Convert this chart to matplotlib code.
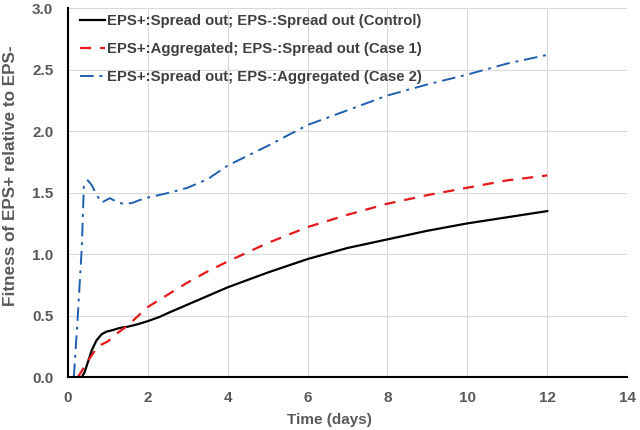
import matplotlib.pyplot as plt

# --- data ---
t_ctrl = [0.35, 0.42, 0.5, 0.6, 0.72, 0.85, 0.97, 1.1, 1.3, 1.5, 1.75, 2.0, 2.3, 2.5, 3.0, 3.5, 4.0, 5.0, 6.0, 7.0, 8.0, 9.0, 10.0, 11.0, 12.0]
fit_ctrl = [0.0, 0.04, 0.12, 0.22, 0.30, 0.35, 0.37, 0.38, 0.40, 0.41, 0.43, 0.455, 0.49, 0.52, 0.59, 0.66, 0.73, 0.85, 0.96, 1.05, 1.12, 1.19, 1.25, 1.30, 1.35]

t_case1 = [0.25, 0.35, 0.5, 0.75, 1.0, 1.25, 1.5, 2.0, 2.5, 3.0, 3.5, 4.0, 5.0, 6.0, 7.0, 8.0, 9.0, 10.0, 11.0, 12.0]
fit_case1 = [0.0, 0.05, 0.13, 0.25, 0.29, 0.36, 0.42, 0.57, 0.67, 0.77, 0.86, 0.94, 1.09, 1.22, 1.32, 1.41, 1.48, 1.54, 1.60, 1.64]

t_case2 = [0.15, 0.25, 0.35, 0.4, 0.5, 0.6, 0.72, 0.85, 1.05, 1.2, 1.37, 1.6, 1.8, 2.0, 2.55, 3.0, 3.5, 4.0, 4.5, 5.0, 6.0, 7.0, 8.0, 9.0, 10.0, 11.0, 12.0]
fit_case2 = [0.0, 0.5, 1.06, 1.55, 1.60, 1.56, 1.48, 1.42, 1.455, 1.43, 1.41, 1.415, 1.44, 1.46, 1.50, 1.54, 1.61, 1.72, 1.80, 1.88, 2.05, 2.17, 2.29, 2.38, 2.46, 2.55, 2.62]

labels = ['EPS+:Spread out; EPS-:Spread out (Control)',
          'EPS+:Aggregated; EPS-:Spread out (Case 1)',
          'EPS+:Spread out; EPS-:Aggregated (Case 2)']

plt.rcParams['font.family'] = ['Liberation Sans', 'DejaVu Sans']
grey = '#595959'

fig = plt.figure(figsize=(6.4, 4.3), dpi=100)
ax = fig.add_axes([0.106, 0.123, 0.874, 0.858])

ax.plot(t_ctrl, fit_ctrl, color='black', lw=1.6, label=labels[0])
ax.plot(t_case1, fit_case1, color='#e3191c', lw=1.6, ls=(0, (5, 4)), label=labels[1])
ax.plot(t_case2, fit_case2, color='#1f5fad', lw=1.4, ls=(0, (7, 3, 1.5, 3)), label=labels[2])

ax.set_xlim(0, 14)
ax.set_ylim(0, 3.0)
ax.set_xticks(range(0, 15, 2))
ax.set_yticks([0, 0.5, 1.0, 1.5, 2.0, 2.5, 3.0])
ax.set_yticklabels([f'{v:.1f}' for v in ax.get_yticks()])
ax.grid(True, color='#d9d9d9', lw=0.8)
ax.set_axisbelow(True)

for s in ['top', 'right']:
    ax.spines[s].set_visible(False)
for s in ['left', 'bottom']:
    ax.spines[s].set_linewidth(1.5)
ax.tick_params(length=0, labelsize=11, labelcolor=grey)
ax.tick_params(axis='y', pad=10.5)
ax.tick_params(axis='x', pad=10)
for lbl in ax.get_xticklabels() + ax.get_yticklabels():
    lbl.set_fontweight('bold')

# axis arrows
ax.annotate('', xy=(14.05, 0), xytext=(13.5, 0),
            arrowprops=dict(arrowstyle='-|>', color='black', lw=1.5, mutation_scale=8))
ax.annotate('', xy=(0, 3.03), xytext=(0, 2.8),
            arrowprops=dict(arrowstyle='-|>', color='black', lw=1.5, mutation_scale=8))

ax.set_xlabel('Time (days)', fontsize=11, fontweight='bold', color=grey)
ax.set_ylabel('Fitness of EPS+ relative to EPS-', fontsize=12.3, fontweight='bold', color=grey)
ax.xaxis.set_label_coords(0.467, -0.098)
ax.yaxis.set_label_coords(-0.089, 0.545)

leg = ax.legend(loc='upper left', frameon=False, fontsize=10.7, handlelength=1.65,
                handletextpad=0.15, labelspacing=0.93, borderaxespad=0.0,
                bbox_to_anchor=(0.012, 1.0))
for txt in leg.get_texts():
    txt.set_color('#404040')
    txt.set_fontweight('bold')

fig.savefig('out.png', dpi=100)
plt.close(fig)
